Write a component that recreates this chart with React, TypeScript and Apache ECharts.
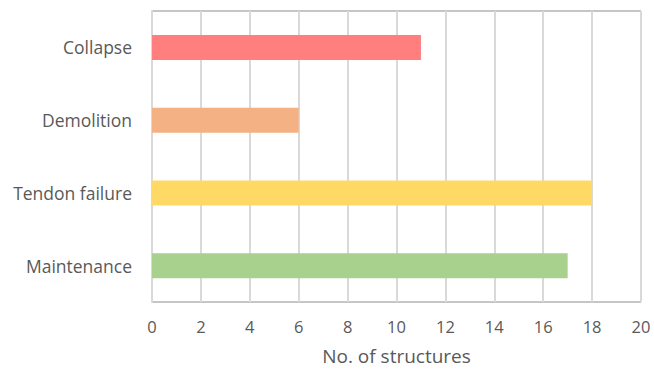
import React, { useEffect, useRef } from "react";
import * as echarts from "echarts";

const categories = ["Collapse", "Demolition", "Tendon failure", "Maintenance"];
const values = [11, 6, 18, 17];
const colors = ["#FF7F7F", "#F4B183", "#FFD966", "#A9D18E"];
const xTitle = "No. of structures";

export default function App() {
  const ref = useRef<HTMLDivElement>(null);
  useEffect(() => {
    const chart = echarts.init(ref.current!, null, { renderer: "svg" });
    chart.setOption({
      animation: false,
      grid: {
        left: 152,
        right: 13,
        top: 11,
        bottom: 68,
        show: true,
        borderColor: "#8c8c8c",
        borderWidth: 1,
        outerBoundsMode: "none",
        containLabel: false,
      },
      xAxis: {
        type: "value",
        min: 0,
        max: 20,
        interval: 2,
        name: xTitle,
        nameLocation: "middle",
        nameGap: 44,
        nameTextStyle: { color: "#595959", fontSize: 19, fontFamily: "Open Sans" },
        axisLine: { show: false },
        axisTick: { show: false },
        axisLabel: { color: "#595959", fontSize: 16.5, fontFamily: "Open Sans", margin: 16 },
        splitLine: { show: true, lineStyle: { color: "#d9d9d9", width: 2 } },
      },
      yAxis: {
        type: "category",
        data: categories,
        inverse: true,
        axisLine: { show: true, lineStyle: { color: "#d9d9d9", width: 2 } },
        axisTick: { show: false },
        axisLabel: { color: "#595959", fontSize: 17.5, fontFamily: "Open Sans", margin: 20 },
      },
      series: [
        {
          type: "bar",
          barWidth: 25,
          data: values.map((v, i) => ({ value: v, itemStyle: { color: colors[i] } })),
        },
      ],
    });
    return () => chart.dispose();
  }, []);
  return (
    <div
      ref={ref}
      style={{ position: "fixed", left: 0, top: 0, width: 654, height: 370, background: "#fff" }}
    />
  );
}
